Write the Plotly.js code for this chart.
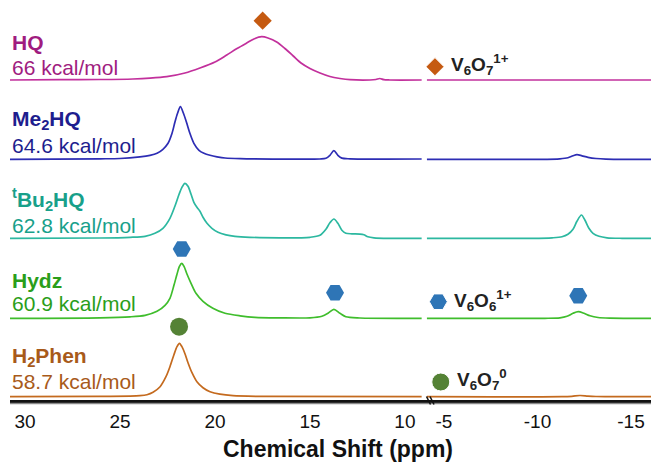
<!DOCTYPE html>
<html>
<head>
<meta charset="utf-8">
<script src="https://cdn.plot.ly/plotly-3.0.1.min.js"></script>
<style>html,body{margin:0;padding:0;background:#fff;}#chart{width:651px;height:462px;}</style>
</head>
<body>
<div id="chart"></div>
<script>
// ---------- data ----------
var compounds = ["HQ", "Me<sub>2</sub>HQ", "<sup>t</sup>Bu<sub>2</sub>HQ", "Hydz", "H<sub>2</sub>Phen"];
var energies = ["66 kcal/mol", "64.6 kcal/mol", "62.8 kcal/mol", "60.9 kcal/mol", "58.7 kcal/mol"];
var offsets = [320, 240.7, 161.7, 81.7, 3.3];   // stacking offsets of each spectrum

// left segment (30.8 .. 9.1 ppm)
var hqLx  = [30.79,28.16,26.05,24.32,23.42,22.54,21.58,20.79,20.0,19.38,18.84,18.33,17.95,17.54,17.21,16.75,16.32,15.88,15.47,15.0,14.47,13.95,13.42,12.89,11.84,11.53,11.32,11.11,10.79,9.12];
var hqLy  = [0,0.3,0.5,1.0,1.8,3.3,7,12,18,25,31.5,37,41,43.3,42,38,31.5,24,17,11.5,7,3.5,1.5,0.3,0,0.5,1.5,0.3,0,0];

var meLx  = [30.79,26.05,25.0,23.95,23.42,23.05,22.74,22.47,22.26,22.11,21.97,21.82,21.66,21.50,21.32,21.11,20.84,20.58,20.26,19.89,19.47,18.68,16.58,14.47,14.16,13.95,13.74,13.53,13.32,12.89,9.12];
var meLy  = [0,0.5,0.8,2.5,4,6,10,16,26,37,46,52.6,46,37,26,16,9,6,4,2.5,1.3,0.6,0.2,0.3,1,4,8.6,4,1.2,0.5,0.3];

var buLx  = [30.79,26.05,24.47,23.68,23.16,22.74,22.37,22.11,21.89,21.74,21.58,21.42,21.26,21.11,20.95,20.79,20.63,20.42,20.16,19.84,19.42,18.95,18.16,16.58,15.0,14.47,14.16,13.95,13.74,13.53,13.32,13.11,12.79,12.37,12.16,11.95,11.63,10.79,9.12];
var buLy  = [0,0.3,1,2,5,10,20,32,44,51,55,52,44,36,31,27,21,15,10,6,3.5,2,1,0.5,1,3,9,15.5,19.3,15,8,5,4.5,4.2,3.5,1.5,0.5,0,0];

var hyLx  = [30.79,26.05,24.47,23.68,23.05,22.63,22.37,22.16,22.0,21.87,21.75,21.63,21.47,21.26,21.0,20.63,20.11,19.47,18.68,17.89,16.58,15.0,14.37,14.05,13.74,13.42,13.11,12.37,9.12];
var hyLy  = [0,0.5,1.5,3,7,13,20,33,44,52,55,52,44,35,25,17,10,5,2.5,1,0.5,0.5,2,5,9,5,1.5,0.3,0];

var phLx  = [30.79,26.05,24.47,23.95,23.58,23.26,22.89,22.58,22.37,22.16,22.0,21.87,21.74,21.58,21.42,21.21,20.95,20.63,20.26,19.74,19.05,17.63,9.12];
var phLy  = [0,0.3,0.6,1,2,4.5,10,20,30,42,50,53.4,50,43,34,24,15,9,5,2.5,1,0.3,0];

// right segment (-4.1 .. -16.1 ppm)
var hqRx  = [-4.09,-16.07];
var hqRy  = [0,0];
var meRx  = [-4.09,-10.13,-11.2,-11.63,-11.9,-12.11,-12.38,-12.7,-13.13,-13.66,-16.07];
var meRy  = [0,0,0.5,1.5,3.5,4.6,3.5,2,0.8,0.2,0];
var buRx  = [-4.09,-9.71,-10.78,-11.31,-11.63,-11.9,-12.11,-12.35,-12.54,-12.75,-12.97,-13.29,-13.72,-14.52,-16.07];
var buRy  = [0,0,0.5,1.5,4,9,17,23.3,18,10,5,2,0.5,0,0];
var hyRx  = [-4.09,-10.4,-11.2,-11.58,-11.9,-12.18,-12.49,-12.81,-13.24,-13.88,-16.07];
var hyRy  = [0,0,0.5,2,5,6.6,5,2.5,0.8,0.2,0];
var phRx  = [-4.09,-11.31,-11.84,-12.27,-12.7,-13.13,-13.61,-16.07];
var phRy  = [0,0,0.4,1.2,0.6,0.2,0,0];

// species markers
var diamondX = [17.49], diamondY = [379.3];
var hexLX = [21.75, 13.68], hexLY = [151, 107.2];
var hexRX = [-12.18], hexRY = [104.2];
var circleX = [21.89], circleY = [73.3];
// key markers (right axis)
var keyX = [-4.52, -4.70, -4.83];
var keyY = [333.3, 98.3, 18];
var keyLabels = ["V<sub>6</sub>O<sub>7</sub><sup>1+</sup>", "V<sub>6</sub>O<sub>6</sub><sup>1+</sup>", "V<sub>6</sub>O<sub>7</sub><sup>0</sup>"];

var leftTicks = [30, 25, 20, 15, 10];
var leftTickText = ["30", "25", "20", "15", "10"];
var rightTicks = [-5, -10, -15];
var rightTickText = ["-5", "-10", "-15"];
var xTitle = "Chemical Shift (ppm)";

// ---------- styling ----------
var lineColors = ["#c2309c", "#2d2db4", "#2cb8a0", "#3fbd2c", "#c46a1e"];
var textColors = ["#a01c80", "#1e1e8e", "#18a08a", "#2a9e1a", "#a85a1a"];
var cDiamond = "#c55a11", cHex = "#2e75b6", cCircle = "#548235";

var Lx = [hqLx, meLx, buLx, hyLx, phLx], Ly = [hqLy, meLy, buLy, hyLy, phLy];
var Rx = [hqRx, meRx, buRx, hyRx, phRx], Ry = [hqRy, meRy, buRy, hyRy, phRy];

function shift(arr, off) { return arr.map(function (v) { return v + off; }); }

var traces = [];
for (var i = 0; i < 5; i++) {
  traces.push({x: Lx[i], y: shift(Ly[i], offsets[i]), xaxis: 'x', yaxis: 'y', mode: 'lines',
    line: {color: lineColors[i], width: 1.7, shape: 'spline', smoothing: 0.8}, hoverinfo: 'skip'});
  traces.push({x: Rx[i], y: shift(Ry[i], offsets[i]), xaxis: 'x2', yaxis: 'y', mode: 'lines',
    line: {color: lineColors[i], width: 1.7, shape: 'spline', smoothing: 0.8}, hoverinfo: 'skip'});
}
traces.push({x: diamondX, y: diamondY, xaxis: 'x', yaxis: 'y', mode: 'markers',
  marker: {symbol: 'diamond', size: 14, color: cDiamond, opacity: 1}});
traces.push({x: hexLX, y: hexLY, xaxis: 'x', yaxis: 'y', mode: 'markers',
  marker: {symbol: 'hexagon2', size: 18, color: cHex, opacity: 1}});
traces.push({x: hexRX, y: hexRY, xaxis: 'x2', yaxis: 'y', mode: 'markers',
  marker: {symbol: 'hexagon2', size: 18, color: cHex, opacity: 1}});
traces.push({x: circleX, y: circleY, xaxis: 'x', yaxis: 'y', mode: 'markers',
  marker: {symbol: 'circle', size: 18, color: cCircle, opacity: 1}});
traces.push({x: keyX, y: keyY, xaxis: 'x2', yaxis: 'y', mode: 'markers',
  marker: {symbol: ['diamond', 'hexagon2', 'circle'], size: [14, 18, 18], color: [cDiamond, cHex, cCircle], opacity: 1}});

// pixel helpers for text placement (plot area: x 10..651, y 0..400)
function px(v) { return (v - 10) / 641; }
function py(v) { return (400 - v) / 400; }

var FONT = "Liberation Sans, Arial, sans-serif";
var nameY = [42.5, 120, 199.5, 280, 356.5];
var energyY = [67.5, 145.8, 225, 303.5, 381.5];
var annotations = [];
for (var j = 0; j < 5; j++) {
  annotations.push({xref: 'paper', yref: 'paper', x: px(10), y: py(nameY[j]), xanchor: 'left', yanchor: 'middle',
    text: '<b>' + compounds[j] + '</b>', showarrow: false, font: {family: FONT, size: 21, color: textColors[j]}});
  annotations.push({xref: 'paper', yref: 'paper', x: px(10), y: py(energyY[j]), xanchor: 'left', yanchor: 'middle',
    text: energies[j], showarrow: false, font: {family: FONT, size: 21, color: textColors[j]}});
}
var keyTextX = [449, 452, 455];
var keyTextY = [64, 300, 379];
for (var k = 0; k < 3; k++) {
  annotations.push({xref: 'paper', yref: 'paper', x: px(keyTextX[k]), y: py(keyTextY[k]), xanchor: 'left', yanchor: 'middle',
    text: '<b>' + keyLabels[k] + '</b>', showarrow: false, font: {family: FONT, size: 19, color: '#222'}});
}
annotations.push({xref: 'paper', yref: 'paper', x: px(338), y: py(449), xanchor: 'center', yanchor: 'middle',
  text: '<b>' + xTitle + '</b>', showarrow: false, font: {family: FONT, size: 23, color: '#111'}});

var split = px(424.5);
var layout = {
  width: 651, height: 462,
  margin: {l: 10, r: 0, t: 0, b: 62},
  paper_bgcolor: '#fff', plot_bgcolor: '#fff',
  showlegend: false,
  xaxis: {domain: [0, split], range: [30.79, 8.97], showgrid: false, zeroline: false,
    showline: true, linecolor: '#111', linewidth: 2.5, ticks: '', tickvals: leftTicks, ticktext: leftTickText,
    tickfont: {family: FONT, size: 19, color: '#111'}, ticklabelstandoff: 3, anchor: 'y'},
  xaxis2: {domain: [split, 1], range: [-3.96, -16.07], showgrid: false, zeroline: false,
    showline: true, linecolor: '#111', linewidth: 2.5, ticks: '', tickvals: rightTicks, ticktext: rightTickText,
    tickfont: {family: FONT, size: 19, color: '#111'}, ticklabelstandoff: 3, anchor: 'y'},
  yaxis: {range: [0, 400], visible: false, fixedrange: true},
  annotations: annotations,
  shapes: [
    {type: 'line', xref: 'paper', yref: 'paper', x0: 0, x1: 1, y0: py(403.5), y1: py(403.5), line: {color: '#8a8a8a', width: 1.5}},
    {type: 'line', xref: 'paper', yref: 'paper', x0: px(426.5), x1: px(430.5), y0: py(396.5), y1: py(404.5), line: {color: '#111', width: 1.5}},
    {type: 'line', xref: 'paper', yref: 'paper', x0: px(430), x1: px(434), y0: py(396.5), y1: py(404.5), line: {color: '#111', width: 1.5}}
  ]
};

Plotly.newPlot('chart', traces, layout, {displayModeBar: false, staticPlot: true});
</script>
</body>
</html>
